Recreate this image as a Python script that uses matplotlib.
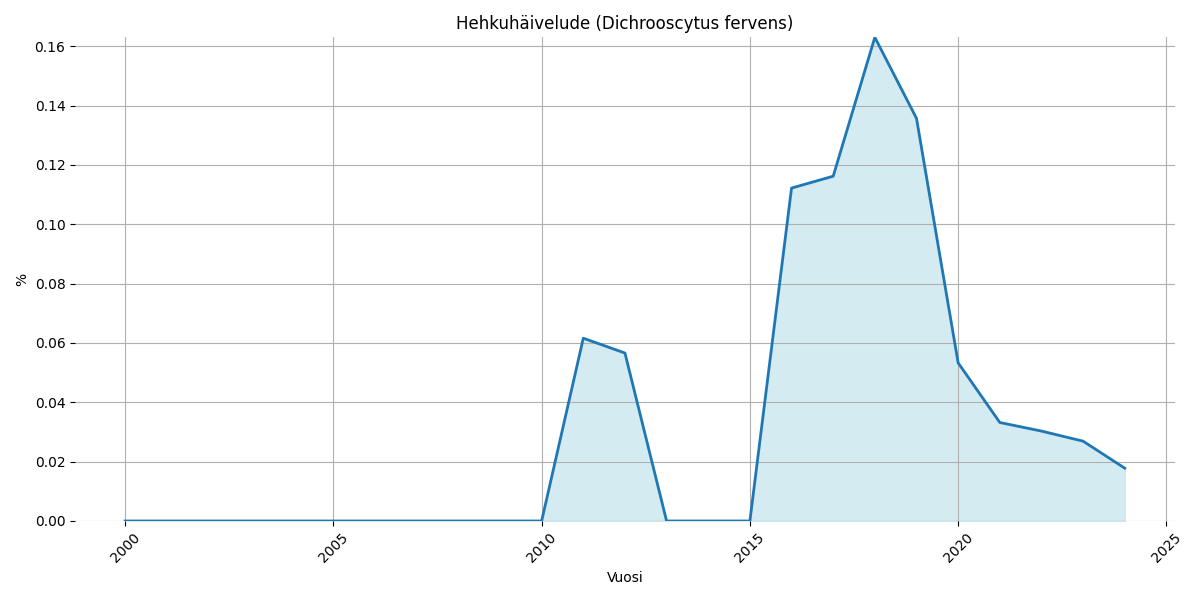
import numpy as np
import matplotlib
matplotlib.use("Agg")
import matplotlib.pyplot as plt

years = np.arange(2000, 2025)
values = [0, 0, 0, 0, 0, 0, 0, 0, 0, 0, 0,
          0.0616, 0.0566, 0, 0, 0,
          0.1122, 0.1162, 0.1630, 0.1357, 0.0533,
          0.0332, 0.0303, 0.0269, 0.0178]

fig, ax = plt.subplots(figsize=(12, 6), dpi=100)
ax.fill_between(years, values, color='lightblue', alpha=0.5)
ax.plot(years, values, color='tab:blue', linewidth=2)
ax.set_ylim(0, max(values))
ax.set_title('Hehkuhäivelude (Dichrooscytus fervens)')
ax.set_xlabel('Vuosi')
ax.set_ylabel('%')
ax.grid(True)
for s in ax.spines.values():
    s.set_visible(False)
plt.xticks(rotation=45)
plt.tight_layout()
plt.savefig('out.png')
